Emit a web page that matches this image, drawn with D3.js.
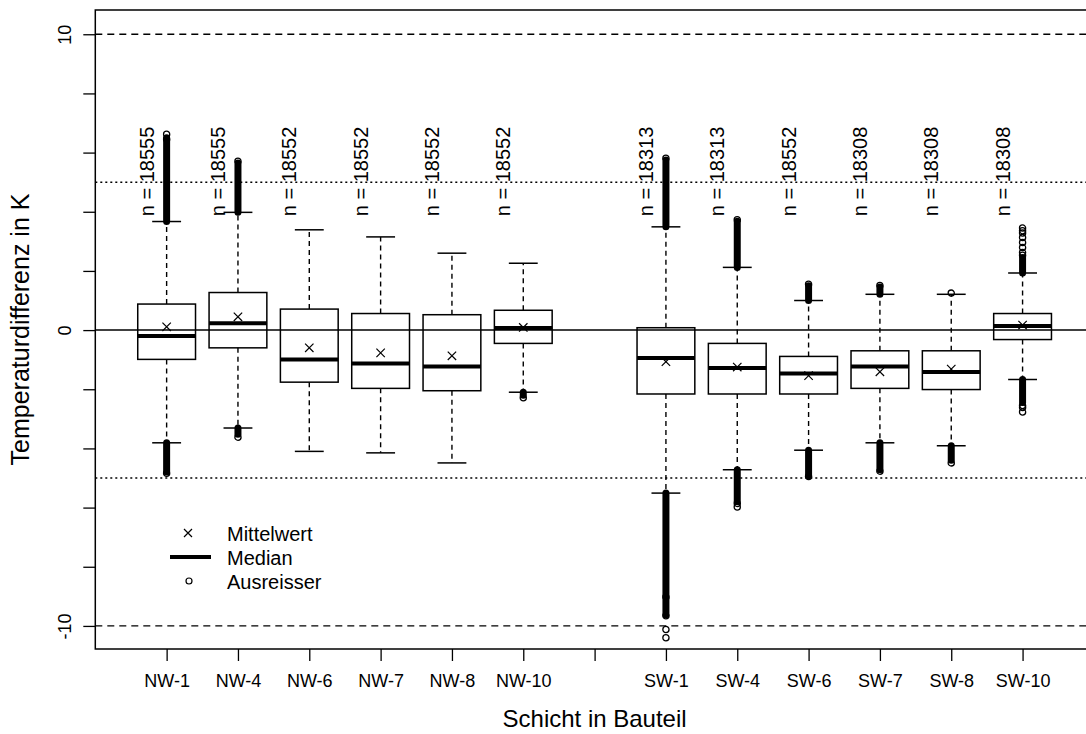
<!DOCTYPE html>
<html>
<head>
<meta charset="utf-8">
<script src="https://cdn.jsdelivr.net/npm/d3@7"></script>
<style>
  body { margin: 0; background: #fff; }
  svg { display: block; font-family: "Liberation Sans", Arial, sans-serif; }
</style>
</head>
<body>
<svg id="chart" width="1086" height="734"></svg>
<script>
// slot 7 is an empty gap between the NW and SW groups
var xLabels = ['NW-1', 'NW-4', 'NW-6', 'NW-7', 'NW-8', 'NW-10', '', 'SW-1', 'SW-4', 'SW-6', 'SW-7', 'SW-8', 'SW-10']
  , groups = ['NW-1', 'NW-4', 'NW-6', 'NW-7', 'NW-8', 'NW-10', 'SW-1', 'SW-4', 'SW-6', 'SW-7', 'SW-8', 'SW-10']
  , nCounts = [18555, 18555, 18552, 18552, 18552, 18552, 18313, 18313, 18552, 18308, 18308, 18308]
  , q3s = [0.88, 1.27, 0.71, 0.56, 0.52, 0.67, 0.08, -0.45, -0.89, -0.70, -0.70, 0.56]
  , medians = [-0.20, 0.23, -0.99, -1.13, -1.23, 0.07, -0.94, -1.28, -1.47, -1.23, -1.42, 0.14]
  , q1s = [-0.99, -0.60, -1.76, -1.97, -2.05, -0.45, -2.16, -2.16, -2.16, -1.97, -2.01, -0.32]
  , means = [0.11, 0.45, -0.60, -0.77, -0.87, 0.09, -1.07, -1.25, -1.54, -1.41, -1.32, 0.17]
  , whiskerHigh = [3.67, 3.98, 3.39, 3.15, 2.60, 2.26, 3.49, 2.12, 1.00, 1.21, 1.21, 1.93]
  , whiskerLow = [-3.81, -3.31, -4.10, -4.15, -4.49, -2.10, -5.51, -4.72, -4.06, -3.81, -3.91, -1.67]

// stretches where thousands of outliers overlap into one solid bar
var outlierRuns = [
  [[3.67, 6.50], [-4.80, -3.81]],
  [[3.98, 5.65], [-3.52, -3.31]],
  [], [], [],
  [[-2.20, -2.10]],
  [[3.49, 5.75], [-9.62, -5.51]],
  [[2.12, 3.68], [-5.80, -4.72]],
  [[1.00, 1.50], [-4.92, -4.06]],
  [[1.21, 1.46], [-4.72, -3.81]],
  [[-4.40, -3.91]],
  [[1.93, 2.45], [-2.45, -1.67]]
]

// single outliers that can still be told apart
var outlierValues = [
  [6.45, 6.62, -4.84],
  [5.71, -3.62],
  [], [], [],
  [-2.29],
  [5.81, -9.02, -9.66, -10.12, -10.40],
  [3.73, -5.86, -5.98],
  [1.55, -4.95],
  [1.51, -4.77],
  [1.25, -4.49],
  [3.45, 3.36, 3.28, 3.13, 2.96, 2.79, 2.62, 2.53, -2.55, -2.62, -2.77]
]

var yTicks = [-10, -8, -6, -4, -2, 0, 2, 4, 6, 8, 10]
  , yLabelled = [-10, 0, 10]
  , dashedAt = [-10, 10]
  , dottedAt = [-5, 5]
  , solidAt = [0]

var legendItems = ['Mittelwert', 'Median', 'Ausreisser']

var svg = d3.select('svg#chart')
  , plotLeft = 95.3, plotRight = 1093.9
  , plotTop = 10, plotBottom = 649

var x = d3.scaleLinear().domain([0, xLabels.length + 1]).range([plotLeft, plotRight])
  , y = d3.scaleLinear().domain([-10.78, 10.82]).range([plotBottom, plotTop])
  , unit = x(1) - x(0)
  , halfBox = unit * 0.405

svg.append('rect').attr('width', 1086).attr('height', 734).attr('fill', '#fff')

// reference lines
var refs = svg.append('g')
refs.selectAll('line.dashed').data(dashedAt).enter().append('line')
  .attr('x1', plotLeft).attr('x2', plotRight)
  .attr('y1', y).attr('y2', y)
  .attr('stroke', '#000').attr('stroke-width', 1.3)
  .attr('stroke-dasharray', '7,5')
refs.selectAll('line.dotted').data(dottedAt).enter().append('line')
  .attr('x1', plotLeft).attr('x2', plotRight)
  .attr('y1', y).attr('y2', y)
  .attr('stroke', '#000').attr('stroke-width', 1.5)
  .attr('stroke-dasharray', '2,3')
refs.selectAll('line.solid').data(solidAt).enter().append('line')
  .attr('x1', plotLeft).attr('x2', plotRight)
  .attr('y1', y).attr('y2', y)
  .attr('stroke', '#000').attr('stroke-width', 1.5)

// boxes
var boxes = groups.map(function(g, i) {
  return {
    name: g, pos: xLabels.indexOf(g) + 1, n: nCounts[i],
    q1: q1s[i], med: medians[i], q3: q3s[i], mean: means[i],
    lo: whiskerLow[i], hi: whiskerHigh[i],
    runs: outlierRuns[i], points: outlierValues[i]
  }
})

var bx = svg.selectAll('g.box').data(boxes).enter().append('g')
  .attr('class', 'box')
  .attr('transform', function(d) { return 'translate(' + x(d.pos) + ',0)' })

bx.append('line').attr('x1', 0).attr('x2', 0)
  .attr('y1', function(d) { return y(d.q3) }).attr('y2', function(d) { return y(d.hi) })
  .attr('stroke', '#000').attr('stroke-width', 1.4).attr('stroke-dasharray', '5,4')
bx.append('line').attr('x1', 0).attr('x2', 0)
  .attr('y1', function(d) { return y(d.q1) }).attr('y2', function(d) { return y(d.lo) })
  .attr('stroke', '#000').attr('stroke-width', 1.4).attr('stroke-dasharray', '5,4')

bx.selectAll('line.cap').data(function(d) { return [d.lo, d.hi] }).enter().append('line')
  .attr('class', 'cap')
  .attr('x1', -halfBox / 2).attr('x2', halfBox / 2)
  .attr('y1', y).attr('y2', y)
  .attr('stroke', '#000').attr('stroke-width', 1.5)

bx.append('rect')
  .attr('x', -halfBox).attr('width', halfBox * 2)
  .attr('y', function(d) { return y(d.q3) })
  .attr('height', function(d) { return y(d.q1) - y(d.q3) })
  .attr('fill', 'none').attr('stroke', '#000').attr('stroke-width', 1.5)

bx.append('line')
  .attr('x1', -halfBox).attr('x2', halfBox)
  .attr('y1', function(d) { return y(d.med) }).attr('y2', function(d) { return y(d.med) })
  .attr('stroke', '#000').attr('stroke-width', 4)

bx.append('path')
  .attr('d', function(d) {
    var c = y(d.mean), s = 4.2
    return 'M' + (-s) + ',' + (c - s) + 'L' + s + ',' + (c + s) + 'M' + (-s) + ',' + (c + s) + 'L' + s + ',' + (c - s)
  })
  .attr('stroke', '#000').attr('stroke-width', 1.2).attr('fill', 'none')

bx.selectAll('line.run').data(function(d) { return d.runs }).enter().append('line')
  .attr('class', 'run')
  .attr('x1', 0).attr('x2', 0)
  .attr('y1', function(r) { return y(r[0]) }).attr('y2', function(r) { return y(r[1]) })
  .attr('stroke', '#000').attr('stroke-width', 7).attr('stroke-linecap', 'round')

bx.selectAll('circle.out').data(function(d) { return d.points }).enter().append('circle')
  .attr('class', 'out')
  .attr('cx', 0).attr('cy', y).attr('r', 3.1)
  .attr('fill', 'none').attr('stroke', '#000').attr('stroke-width', 1.3)

bx.append('text')
  .attr('transform', function(d) { return 'translate(-13,' + y(3.85) + ') rotate(-90)' })
  .attr('font-size', 20).attr('fill', '#000')
  .text(function(d) { return 'n = ' + d.n })

// axes
var yAxis = svg.append('g').attr('transform', 'translate(' + plotLeft + ',0)')
  .call(d3.axisLeft(y).tickValues(yTicks).tickSize(12)
    .tickFormat(function(v) { return yLabelled.indexOf(v) >= 0 ? v : '' }))
yAxis.select('.domain').remove()
yAxis.selectAll('.tick line').attr('stroke', '#000').attr('stroke-width', 1.3)
yAxis.selectAll('.tick text')
  .attr('x', 0).attr('y', -24).attr('dy', 0)
  .attr('transform', 'rotate(-90)')
  .attr('text-anchor', 'middle')
  .attr('font-size', 18).attr('font-family', null).attr('fill', '#000')

var xAxis = svg.append('g').attr('transform', 'translate(0,' + plotBottom + ')')
  .call(d3.axisBottom(x).tickValues(d3.range(1, xLabels.length + 1)).tickSize(12)
    .tickFormat(function(i) { return xLabels[i - 1] }))
xAxis.select('.domain').remove()
xAxis.selectAll('.tick line').attr('stroke', '#000').attr('stroke-width', 1.3)
xAxis.selectAll('.tick text')
  .attr('y', 38).attr('dy', 0)
  .attr('font-size', 18).attr('font-family', null).attr('fill', '#000')

// frame
svg.append('rect')
  .attr('x', plotLeft).attr('y', plotTop)
  .attr('width', plotRight - plotLeft).attr('height', plotBottom - plotTop)
  .attr('fill', 'none').attr('stroke', '#000').attr('stroke-width', 1.5)

svg.append('text')
  .attr('x', (plotLeft + plotRight) / 2).attr('y', 727)
  .attr('text-anchor', 'middle').attr('font-size', 24)
  .text('Schicht in Bauteil')

svg.append('text')
  .attr('transform', 'translate(29,' + (plotTop + plotBottom) / 2 + ') rotate(-90)')
  .attr('text-anchor', 'middle').attr('font-size', 25)
  .text('Temperaturdifferenz in K')

// legend
var lg = svg.append('g').attr('transform', 'translate(0,533)')
lg.selectAll('text').data(legendItems).enter().append('text')
  .attr('x', 227).attr('y', function(d, i) { return i * 24 + 8 })
  .attr('font-size', 20)
  .text(function(d) { return d })
lg.append('path').attr('d', 'M184,-4L192,4M184,4L192,-4')
  .attr('stroke', '#000').attr('stroke-width', 1.2)
lg.append('line').attr('x1', 170).attr('x2', 211).attr('y1', 24).attr('y2', 24)
  .attr('stroke', '#000').attr('stroke-width', 4)
lg.append('circle').attr('cx', 189).attr('cy', 48).attr('r', 3)
  .attr('fill', 'none').attr('stroke', '#000').attr('stroke-width', 1.2)
</script>
</body>
</html>
